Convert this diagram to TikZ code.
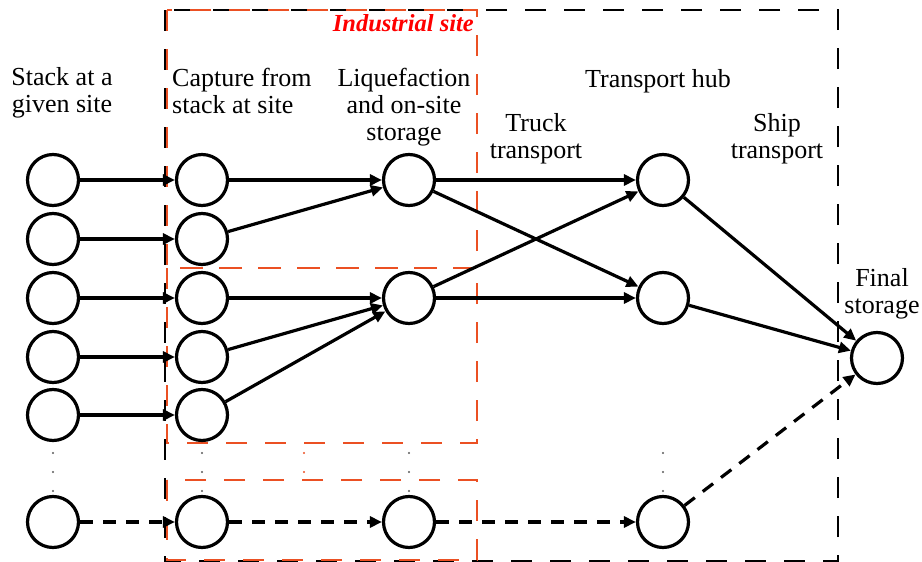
\documentclass[tikz,border=0pt]{standalone}
\usepackage{fontspec}
\setmainfont{Liberation Serif}
\usetikzlibrary{arrows.meta}
\definecolor{redline}{RGB}{235,80,35}
\definecolor{dotgray}{RGB}{90,90,90}
\begin{document}
\begin{tikzpicture}[x=1pt,y=-1pt,
  st/.style={circle,draw,line width=3.2pt,minimum size=51pt,inner sep=0pt},
  arr/.style={line width=3.2pt,-{Triangle[length=12pt,width=11pt]}},
  darr/.style={arr,dash pattern=on 13pt off 10pt},
  lbl/.style={font=\fontsize{26}{27}\selectfont,align=center,inner sep=0pt},
  blackbox/.style={draw=black,line width=1.5pt,dash pattern=on 21pt off 18pt},
  redbox/.style={draw=redline,line width=1.5pt,dash pattern=on 21pt off 18pt},
  gdot/.style={circle,fill=dotgray,inner sep=0pt,minimum size=2.2pt},
  rdot/.style={circle,fill=redline,inner sep=0pt,minimum size=2.2pt},
]
\useasboundingbox (0,0) rectangle (922,562);

% boxes
\draw[blackbox] (165,10) rectangle (838,561);
\draw[redbox] (167,10) rectangle (477,268);
\draw[redbox] (167,268) rectangle (477,443);
\draw[redbox] (167,480) rectangle (477,560);

% stacks
\node[st] (s1) at (53,180) {};
\node[st] (s2) at (53,239) {};
\node[st] (s3) at (53,298) {};
\node[st] (s4) at (53,357) {};
\node[st] (s5) at (53,415) {};
\node[st] (sb) at (53,522) {};
% capture
\node[st] (c1) at (202,180) {};
\node[st] (c2) at (202,239) {};
\node[st] (c3) at (202,298) {};
\node[st] (c4) at (202,357) {};
\node[st] (c5) at (202,415) {};
\node[st] (cb) at (202,522) {};
% liquefaction
\node[st] (l1) at (409,180) {};
\node[st] (l2) at (409,298) {};
\node[st] (lb) at (409,522) {};
% hub
\node[st] (h1) at (663,180) {};
\node[st] (h2) at (663,298) {};
\node[st] (hb) at (663,522) {};
% final
\node[st] (f) at (877,358) {};

% dots
\foreach \x/\n in {53/a,202/b,409/c,663/d}{
  \node[gdot] (g\n1) at (\x,453) {};
  \node[gdot] (g\n2) at (\x,472) {};
  \node[gdot] (g\n3) at (\x,491) {};
}
\node[rdot] (r1) at (304,453) {};
\node[rdot] (r2) at (304,472) {};

% edges
\foreach \i in {1,...,5}{\draw[arr] (s\i) -- (c\i);}
\draw[arr] (c1) -- (l1);
\draw[arr] (c2) -- (l1);
\draw[arr] (c3) -- (l2);
\draw[arr] (c4) -- (l2);
\draw[arr] (c5) -- (l2);
\draw[arr] (l1) -- (h1);
\draw[arr] (l1) -- (h2);
\draw[arr] (l2) -- (h1);
\draw[arr] (l2) -- (h2);
\draw[arr] (h1) -- (f);
\draw[arr] (h2) -- (f);
\draw[darr] (sb) -- (cb);
\draw[darr] (cb) -- (lb);
\draw[darr] (lb) -- (hb);
\draw[darr] (hb) -- (f);

% labels (anchor=base is the baseline of the last line)
\node[lbl,anchor=base] (t0) at (62,112) {Stack at a\\given site};
\node[lbl,anchor=base west,align=left] (t1) at (172,113) {Capture from\\stack at site};
\node[lbl,anchor=base] (t2) at (404,140) {Liquefaction\\and on-site\\storage};
\node[lbl,anchor=base] (t3) at (658,87) {Transport hub};
\node[lbl,anchor=base] (t4) at (536,158) {Truck\\transport};
\node[lbl,anchor=base] (t5) at (777,158) {Ship\\transport};
\node[lbl,anchor=base] (t6) at (882,313) {Final\\storage};
\node[anchor=base east,text=red,inner sep=0pt,font=\fontsize{24.5}{26}\selectfont\bfseries\itshape] (ind) at (474,31) {Industrial site};
\end{tikzpicture}
\end{document}
